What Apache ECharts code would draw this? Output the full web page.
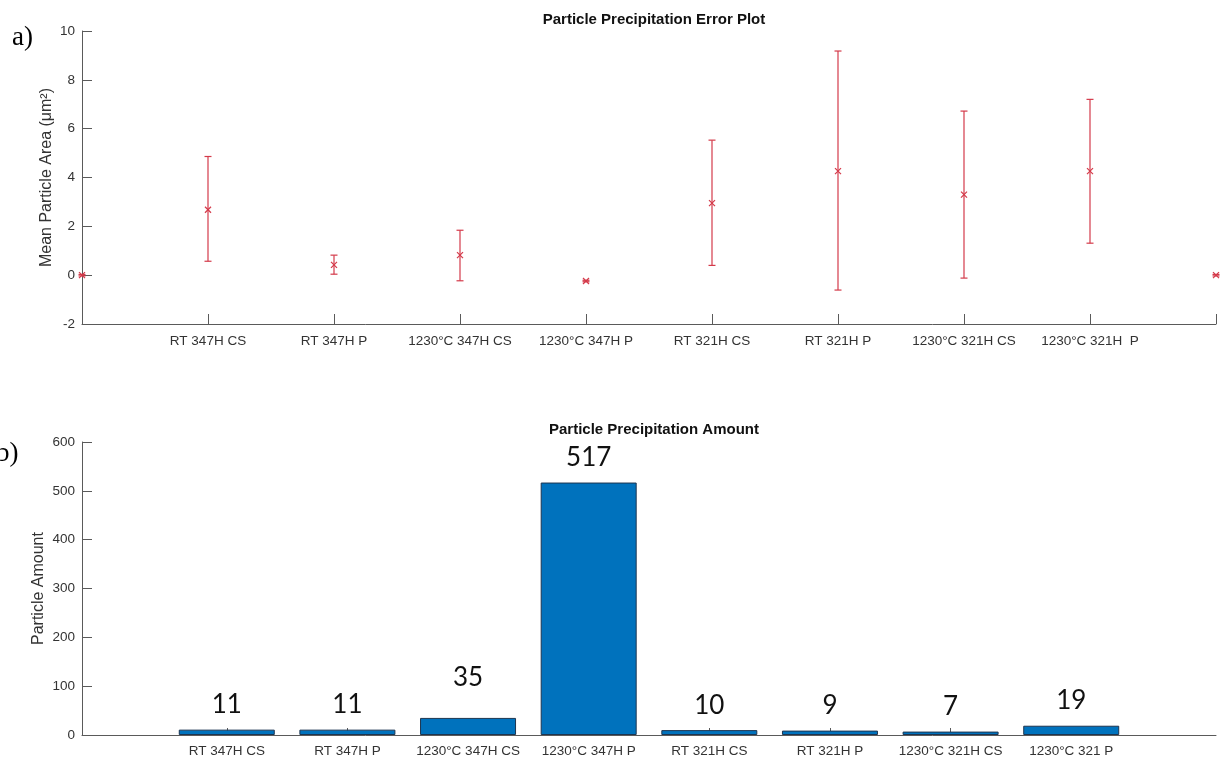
<!DOCTYPE html>
<html>
<head>
<meta charset="utf-8">
<script src="https://cdn.jsdelivr.net/npm/echarts@6/dist/echarts.min.js"></script>
<style>
  html, body { margin: 0; padding: 0; background: #fff; }
  #chart { width: 1222px; height: 760px; }
</style>
</head>
<body>
<div id="chart"></div>
<script>
// --- data ---
var errCategories = ['', 'RT 347H CS', 'RT 347H P', '1230°C 347H CS', '1230°C 347H P',
                     'RT 321H CS', 'RT 321H P', '1230°C 321H CS', '1230°C 321H  P', ''];
var errMean = [0, 2.68, 0.42, 0.82, -0.24, 2.95, 4.26, 3.30, 4.26, 0];
var errLow  = [-0.03, 0.57, 0.04, -0.23, -0.27, 0.40, -0.61, -0.12, 1.31, -0.03];
var errHigh = [0.03, 4.86, 0.82, 1.84, -0.21, 5.53, 9.18, 6.72, 7.20, 0.03];
var errTicks = [-2, 0, 2, 4, 6, 8, 10];

var barCategories = ['RT 347H CS', 'RT 347H P', '1230°C 347H CS', '1230°C 347H P',
                     'RT 321H CS', 'RT 321H P', '1230°C 321H CS', '1230°C 321 P'];
var barValues = [11, 11, 35, 517, 10, 9, 7, 19];
var barTicks = [0, 100, 200, 300, 400, 500, 600];

var axisColor = '#5a5a5a';
var labelColor = '#333';
var red = '#d43a4a';
var font = 'Liberation Sans';

var errData = errMean.map(function (m, i) {
    return [i, m, errLow[i], errHigh[i]];
});
var barData = barValues.map(function (v, i) {
    var item = { value: [i + 1, v] };
    if (v === 35) item.label = { distance: 27 };   // this label sits higher in the original
    return item;
});
var barPositions = barCategories.map(function (c, i) { return i + 1; });

function renderErr(params, api) {
    var x = api.value(0);
    var pm = api.coord([x, api.value(1)]);
    var plo = api.coord([x, api.value(2)]);
    var phi = api.coord([x, api.value(3)]);
    var st = { stroke: red, lineWidth: 1.2 };
    var c = 3.5, s = 3;
    var kids = [
        { type: 'line', shape: { x1: plo[0], y1: plo[1], x2: phi[0], y2: phi[1] }, style: st },
        { type: 'line', shape: { x1: plo[0] - c, y1: plo[1], x2: plo[0] + c, y2: plo[1] }, style: st },
        { type: 'line', shape: { x1: phi[0] - c, y1: phi[1], x2: phi[0] + c, y2: phi[1] }, style: st },
        { type: 'line', shape: { x1: pm[0] - s, y1: pm[1] - s, x2: pm[0] + s, y2: pm[1] + s }, style: st },
        { type: 'line', shape: { x1: pm[0] - s, y1: pm[1] + s, x2: pm[0] + s, y2: pm[1] - s }, style: st }
    ];
    return { type: 'group', children: kids };
}

var axisCommon = {
    axisLine: { show: true, onZero: false, lineStyle: { color: axisColor, width: 1 } },
    axisTick: { show: true, inside: true, length: 10, lineStyle: { color: axisColor } },
    splitLine: { show: false }
};

var option = {
    animation: false,
    backgroundColor: '#fff',
    title: [
        {
            text: 'Particle Precipitation Error Plot',
            left: 649, top: 7, textAlign: 'center',
            textStyle: { fontFamily: font, fontSize: 15, fontWeight: 'bold', color: '#111' }
        },
        {
            text: 'Particle Precipitation Amount',
            left: 649, top: 417, textAlign: 'center',
            textStyle: { fontFamily: font, fontSize: 15, fontWeight: 'bold', color: '#111' }
        }
    ],
    graphic: [
        { type: 'text', left: 12, top: 24, style: { text: 'a)', font: '27px "Liberation Serif"', fill: '#000' } },
        { type: 'text', left: -4, top: 440, style: { text: 'b)', font: '27px "Liberation Serif"', fill: '#000' } }
    ],
    grid: [
        { left: 82, right: 6, top: 31, height: 293 },
        { left: 82, right: 6, top: 442, height: 293 }
    ],
    xAxis: [
        Object.assign({}, axisCommon, {
            type: 'value', gridIndex: 0, min: 0, max: 9, interval: 1,
            axisLabel: {
                color: labelColor, fontFamily: font, fontSize: 13.5, margin: 10,
                formatter: function (v) { return errCategories[Math.round(v)] || ''; }
            }
        }),
        Object.assign({}, axisCommon, {
            type: 'value', gridIndex: 1, min: -0.2, max: 9.2,
            axisTick: { show: true, inside: true, length: 7, lineStyle: { color: axisColor },
                        customValues: barPositions },
            axisLabel: {
                color: labelColor, fontFamily: font, fontSize: 13.5, margin: 9,
                customValues: barPositions,
                formatter: function (v) { return barCategories[Math.round(v) - 1] || ''; }
            }
        })
    ],
    yAxis: [
        Object.assign({}, axisCommon, {
            type: 'value', gridIndex: 0, min: errTicks[0], max: errTicks[errTicks.length - 1], interval: 2,
            name: 'Mean Particle Area (μm²)', nameLocation: 'middle', nameGap: 27, nameMoveOverlap: false,
            nameTextStyle: { color: labelColor, fontFamily: font, fontSize: 16 },
            axisLabel: { color: labelColor, fontFamily: font, fontSize: 13.5, margin: 7 }
        }),
        Object.assign({}, axisCommon, {
            type: 'value', gridIndex: 1, min: barTicks[0], max: barTicks[barTicks.length - 1], interval: 100,
            name: 'Particle Amount', nameLocation: 'middle', nameGap: 35, nameMoveOverlap: false,
            nameTextStyle: { color: labelColor, fontFamily: font, fontSize: 16 },
            axisLabel: { color: labelColor, fontFamily: font, fontSize: 13.5, margin: 7 }
        })
    ],
    series: [
        {
            type: 'custom', xAxisIndex: 0, yAxisIndex: 0,
            renderItem: renderErr, data: errData, clip: false, z: 5
        },
        {
            type: 'bar', xAxisIndex: 1, yAxisIndex: 1, barWidth: 96,
            itemStyle: { color: '#0072BD', borderColor: '#1d3550', borderWidth: 1 },
            label: {
                show: true, position: 'top', distance: 12,
                fontFamily: 'Lato', fontSize: 26, color: '#111',
                formatter: function (p) { return p.value[1]; }
            },
            data: barData, z: 1
        }
    ]
};

var mychart = echarts.init(document.getElementById('chart'));
mychart.setOption(option);
</script>
</body>
</html>
